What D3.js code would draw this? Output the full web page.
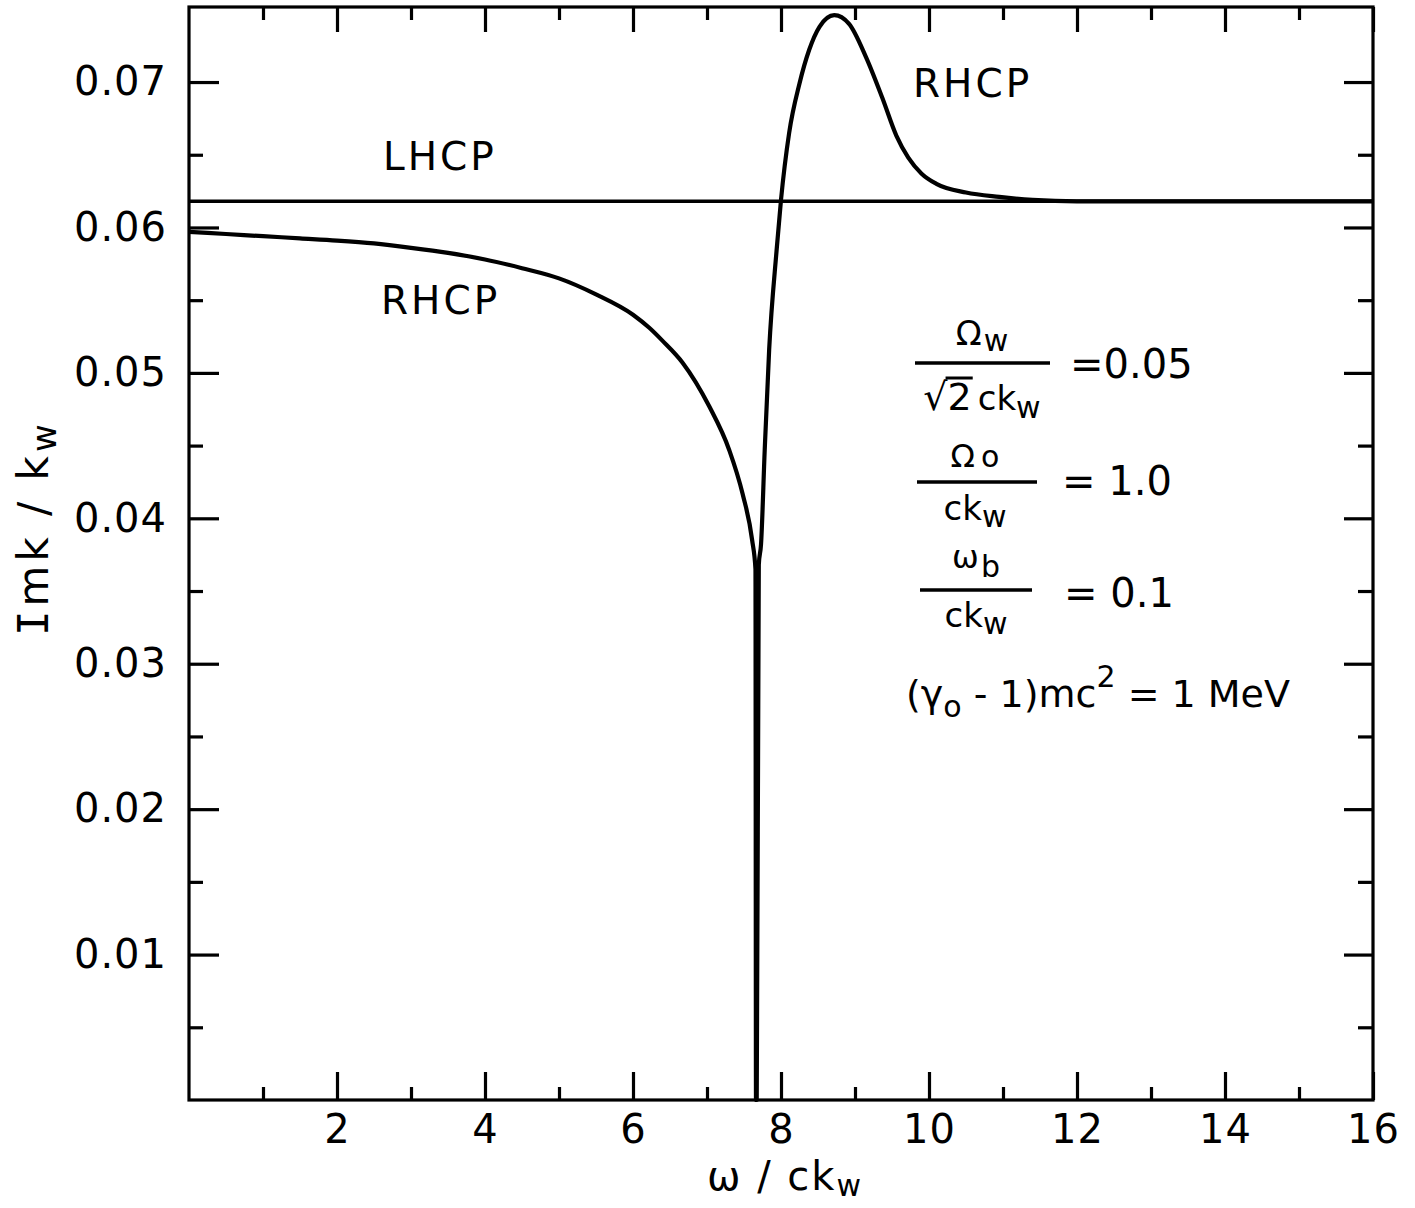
<!DOCTYPE html>
<html>
<head>
<meta charset="utf-8">
<script src="https://cdn.jsdelivr.net/npm/d3@7/dist/d3.min.js"></script>
<style>
  html, body { margin: 0; padding: 0; background: #fff; }
  svg { display: block; }
  text { font-family: "DejaVu Sans", sans-serif; fill: #000; }
</style>
</head>
<body>
<svg id="chart" width="1415" height="1208"></svg>
<script>
// Imaginary part of the wavenumber vs. frequency, both normalised to the wiggler wavenumber.
const rhcpX = [0.0, 0.5, 1.0, 1.5, 2.0, 2.5, 3.0, 3.5, 4.0, 4.5, 5.0, 5.5, 6.0, 6.22, 6.4, 6.67, 7.03, 7.3, 7.48, 7.61,
               7.655, 7.662, 7.672, 7.70, 7.73, 7.78, 7.84, 7.94, 8.0, 8.11, 8.25, 8.38, 8.52, 8.72, 8.92, 9.15,
               9.37, 9.56, 9.72, 9.9, 10.1, 10.5, 10.95, 11.4, 12.0, 14.0, 16.0];
const rhcpY = [0.0597, 0.05955, 0.0594, 0.05925, 0.0591, 0.0589, 0.0586, 0.05825, 0.0578, 0.0572, 0.0565, 0.0554, 0.0540, 0.0531, 0.0522, 0.0507, 0.0477, 0.0447, 0.0417, 0.0385,
               0.0365, 0.0, 0.0, 0.0368, 0.0382, 0.0447, 0.0516, 0.0584, 0.0619, 0.0665, 0.0699, 0.0722, 0.0738, 0.0746, 0.0740, 0.0717,
               0.0689, 0.0663, 0.0648, 0.0637, 0.0630, 0.0624, 0.0621, 0.0619, 0.0618, 0.0618, 0.0618];
const lhcpX = [0, 16];
const lhcpY = [0.0618, 0.0618];

const xMajorTicks = [2, 4, 6, 8, 10, 12, 14, 16];
const xMinorTicks = [1, 3, 5, 7, 9, 11, 13, 15];
const yMajorTicks = [0.01, 0.02, 0.03, 0.04, 0.05, 0.06, 0.07];
const yMinorTicks = [0.005, 0.015, 0.025, 0.035, 0.045, 0.055, 0.065];

const svg = d3.select("#chart");
const L = 189, R = 1373, T = 7, B = 1100;

const x = d3.scaleLinear().domain([0, 16]).range([L, R]);
const y = d3.scaleLinear().domain([0, 0.07516]).range([B, T]);

// frame
svg.append("rect")
  .attr("x", L).attr("y", T).attr("width", R - L).attr("height", B - T)
  .attr("fill", "none").attr("stroke", "#000").attr("stroke-width", 3.2);

function styleAxis(g, fontSize) {
  g.select(".domain").remove();
  g.selectAll(".tick line").attr("stroke", "#000").attr("stroke-width", 3.2);
  g.selectAll(".tick text").attr("font-size", fontSize).attr("font-family", "DejaVu Sans")
    .attr("fill", "#000").attr("letter-spacing", 1);
}

// bottom axis with labels, ticks pointing inward
svg.append("g").attr("transform", `translate(0,${B})`)
  .call(d3.axisBottom(x).tickValues(xMajorTicks).tickSize(-28).tickPadding(15).tickFormat(d3.format("d")))
  .call(g => styleAxis(g, 40));
svg.append("g").attr("transform", `translate(0,${B})`)
  .call(d3.axisBottom(x).tickValues(xMinorTicks).tickSize(-13).tickFormat(""))
  .call(g => styleAxis(g, 0));
// top axis, ticks only
svg.append("g").attr("transform", `translate(0,${T})`)
  .call(d3.axisTop(x).tickValues(xMajorTicks).tickSize(-25).tickFormat(""))
  .call(g => styleAxis(g, 0));
svg.append("g").attr("transform", `translate(0,${T})`)
  .call(d3.axisTop(x).tickValues(xMinorTicks).tickSize(-13).tickFormat(""))
  .call(g => styleAxis(g, 0));
// left axis with labels
svg.append("g").attr("transform", `translate(${L},0)`)
  .call(d3.axisLeft(y).tickValues(yMajorTicks).tickSize(-30).tickPadding(22).tickFormat(d3.format(".2f")))
  .call(g => styleAxis(g, 40));
svg.append("g").attr("transform", `translate(${L},0)`)
  .call(d3.axisLeft(y).tickValues(yMinorTicks).tickSize(-14).tickFormat(""))
  .call(g => styleAxis(g, 0));
// right axis, ticks only
svg.append("g").attr("transform", `translate(${R},0)`)
  .call(d3.axisRight(y).tickValues(yMajorTicks).tickSize(-29).tickFormat(""))
  .call(g => styleAxis(g, 0));
svg.append("g").attr("transform", `translate(${R},0)`)
  .call(d3.axisRight(y).tickValues(yMinorTicks).tickSize(-15).tickFormat(""))
  .call(g => styleAxis(g, 0));

// curves
const lhcp = d3.zip(lhcpX, lhcpY);
const rhcp = d3.zip(rhcpX, rhcpY);

svg.append("path").datum(lhcp)
  .attr("d", d3.line().x(d => x(d[0])).y(d => y(d[1])))
  .attr("fill", "none").attr("stroke", "#000").attr("stroke-width", 3.4);

svg.append("path").datum(rhcp)
  .attr("d", d3.line().x(d => x(d[0])).y(d => y(d[1])).curve(d3.curveMonotoneX))
  .attr("fill", "none").attr("stroke", "#000").attr("stroke-width", 4.2)
  .attr("stroke-linejoin", "round");

// curve labels
function label(txt, px, py, size) {
  return svg.append("text").attr("x", px).attr("y", py).attr("font-size", size)
    .attr("letter-spacing", 3).text(txt);
}
label("LHCP", 383, 170, 39);
label("RHCP", 381, 314, 39);
label("RHCP", 913, 97, 39);

// axis titles
const xt = svg.append("text").attr("x", 785).attr("y", 1190).attr("text-anchor", "middle")
  .attr("font-size", 40).attr("letter-spacing", 2);
xt.append("tspan").text("ω / ck");
xt.append("tspan").attr("dy", 6).attr("font-size", 30).text("w");

const yt = svg.append("text").attr("transform", "translate(48,528) rotate(-90)")
  .attr("text-anchor", "middle").attr("font-size", 42).attr("letter-spacing", 4);
yt.append("tspan").attr("font-family", "DejaVu Sans Mono").text("I");
yt.append("tspan").text("mk / k");
yt.append("tspan").attr("dy", 8).attr("font-size", 34).text("w");

// parameter block
function frac(cx, numY, barY, denY, x0, x1, num, den) {
  const n = svg.append("text").attr("x", cx).attr("y", numY).attr("text-anchor", "middle");
  num(n);
  svg.append("line").attr("x1", x0).attr("x2", x1).attr("y1", barY).attr("y2", barY)
    .attr("stroke", "#000").attr("stroke-width", 3.5);
  const d = svg.append("text").attr("x", cx).attr("y", denY).attr("text-anchor", "middle");
  den(d);
  return d;
}

// Ω_w / (√2 ck_w) = 0.05
const d1 = frac(982, 345, 363, 410, 915, 1050,
  t => { t.append("tspan").attr("font-size", 34).text("Ω");
         t.append("tspan").attr("font-size", 30).attr("dy", 6).attr("dx", 2).text("w"); },
  t => { t.append("tspan").attr("font-size", 38).text("√2");
         t.append("tspan").attr("font-size", 34).attr("dx", 6).text("ck");
         t.append("tspan").attr("font-size", 30).attr("dy", 8).text("w"); });
{
  const node = d1.node();
  const r0 = node.getExtentOfChar(0), r1 = node.getExtentOfChar(1);
  svg.append("line").attr("x1", r0.x + r0.width - 2).attr("x2", r1.x + r1.width + 1)
    .attr("y1", r0.y + 3).attr("y2", r0.y + 3).attr("stroke", "#000").attr("stroke-width", 3);
}
svg.append("text").attr("x", 1070).attr("y", 378).attr("font-size", 40).text("=0.05");

// Ω_o / ck_w = 1.0
frac(975, 467, 482, 520, 917, 1037,
  t => { t.append("tspan").attr("font-size", 32).text("Ω");
         t.append("tspan").attr("font-size", 30).attr("dx", 6).text("o"); },
  t => { t.append("tspan").attr("font-size", 34).text("ck");
         t.append("tspan").attr("font-size", 30).attr("dy", 7).text("w"); });
svg.append("text").attr("x", 1062).attr("y", 495).attr("font-size", 40).text("= 1.0");

// ω_b / ck_w = 0.1
frac(976, 568, 590, 627, 920, 1032,
  t => { t.append("tspan").attr("font-size", 32).text("ω");
         t.append("tspan").attr("font-size", 30).attr("dy", 9).attr("dx", 2).text("b"); },
  t => { t.append("tspan").attr("font-size", 34).text("ck");
         t.append("tspan").attr("font-size", 30).attr("dy", 7).text("w"); });
svg.append("text").attr("x", 1064).attr("y", 607).attr("font-size", 40).text("= 0.1");

// (γ_o - 1) mc² = 1 MeV
{
  const t = svg.append("text").attr("x", 906).attr("y", 707).attr("font-size", 38);
  t.append("tspan").text("(γ");
  t.append("tspan").attr("font-size", 30).attr("dy", 10).text("o");
  t.append("tspan").attr("dy", -10).text(" - 1)mc");
  t.append("tspan").attr("font-size", 30).attr("dy", -20).text("2");
  t.append("tspan").attr("dy", 20).text(" = 1 MeV");
}
</script>
</body>
</html>
